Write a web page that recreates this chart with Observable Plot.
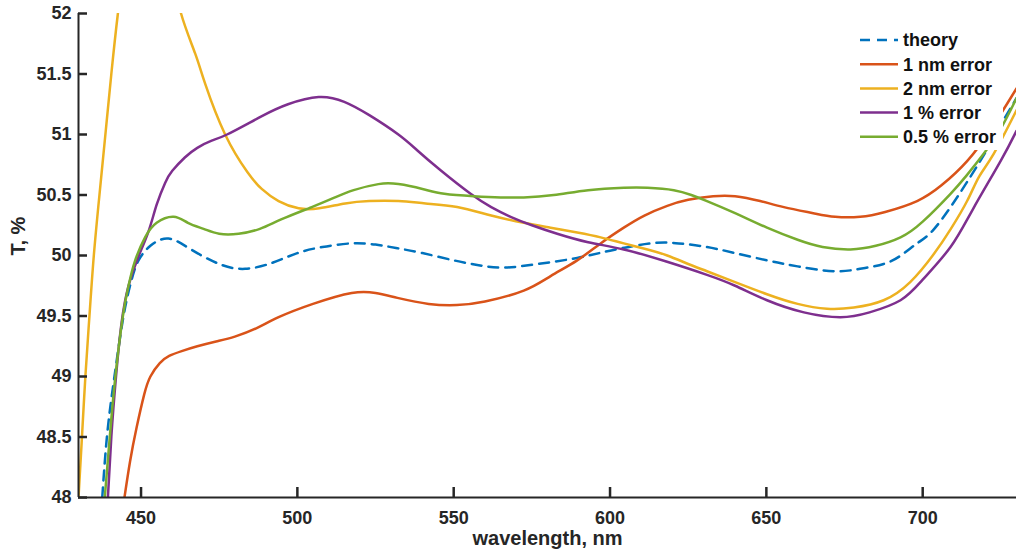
<!DOCTYPE html>
<html>
<head>
<meta charset="utf-8">
<script src="https://cdn.jsdelivr.net/npm/d3@7"></script>
<script src="https://cdn.jsdelivr.net/npm/@observablehq/plot@0.6"></script>
<style>
  html, body { margin: 0; padding: 0; background: #fff; }
  #wrap { position: relative; width: 1016px; height: 558px; }
  #legend { position: absolute; left: 853px; top: 28px; }
</style>
</head>
<body>
<div id="wrap"></div>
<script>
// ---- data ----
const xDomain = [430, 730];
const yDomain = [48, 52];
const xTicks = [450, 500, 550, 600, 650, 700];
const yTicks = [48, 48.5, 49, 49.5, 50, 50.5, 51, 51.5, 52];

const seriesNames = ["theory", "1 nm error", "2 nm error", "1 % error", "0.5 % error"];
const seriesColors = ["#0072BD", "#D95319", "#EDB120", "#7E2F8E", "#77AC30"];

const theoryWl = [437.6, 439.2, 441.5, 444.4, 447, 449.2, 453, 458.8, 466, 475, 483.3, 492, 500, 508, 517.3, 525, 532, 540, 550, 558, 566, 577, 589.5, 600, 613, 622, 631, 640, 650.2, 660, 671.5, 680, 687.5, 693, 698.2, 703, 708.9, 714, 720, 725, 730];
const theoryT  = [48.0, 48.53, 49.0, 49.5, 49.8, 49.96, 50.08, 50.14, 50.05, 49.93, 49.89, 49.94, 50.02, 50.07, 50.10, 50.09, 50.06, 50.02, 49.96, 49.92, 49.90, 49.93, 49.98, 50.04, 50.10, 50.10, 50.07, 50.02, 49.96, 49.91, 49.87, 49.89, 49.93, 50.0, 50.10, 50.2, 50.40, 50.6, 50.85, 51.08, 51.3];

const nm1Wl = [444.7, 446.5, 448.6, 451, 453, 456, 459, 463, 468, 474, 480, 487, 494, 505, 517.4, 525, 532, 542, 551, 560, 572.4, 581, 589.5, 597, 604.4, 611, 618.3, 625, 633, 640, 648, 655.6, 665, 672, 680, 688, 698.2, 706, 714.2, 722, 730];
const nm1T  = [48.0, 48.3, 48.58, 48.85, 49.0, 49.11, 49.17, 49.21, 49.25, 49.29, 49.33, 49.4, 49.49, 49.6, 49.69, 49.69, 49.65, 49.6, 49.59, 49.62, 49.71, 49.83, 49.96, 50.1, 50.23, 50.33, 50.41, 50.46, 50.49, 50.49, 50.45, 50.40, 50.35, 50.32, 50.32, 50.36, 50.45, 50.58, 50.78, 51.05, 51.38];

const nm2Wl = [430, 431, 432.2, 433.5, 434.9, 436.7, 438.6, 440.5, 442.6, 445, 448, 451, 454, 457, 460, 462.8, 467.3, 470.5, 476.9, 484, 488.6, 494, 500.4, 507, 515.3, 523, 532.3, 541, 551.1, 562, 572.4, 581, 589.5, 597, 604.4, 612, 618.3, 625, 631, 640, 650.2, 660, 669.4, 678, 687.5, 696, 703.5, 709, 714.2, 718, 722.7, 730];
const nm2T  = [48.0, 48.45, 49.0, 49.5, 50.0, 50.5, 51.0, 51.5, 52.0, 52.45, 52.85, 53.0, 52.95, 52.7, 52.35, 52.0, 51.67, 51.42, 51.0, 50.69, 50.55, 50.45, 50.39, 50.39, 50.43, 50.45, 50.45, 50.43, 50.40, 50.33, 50.27, 50.23, 50.19, 50.15, 50.10, 50.05, 50.0, 49.93, 49.87, 49.78, 49.68, 49.60, 49.56, 49.57, 49.63, 49.78, 50.01, 50.22, 50.45, 50.65, 50.84, 51.2];

const pc1Wl = [439.4, 440.5, 442, 443.8, 446, 449, 452.4, 455, 457.7, 460, 464, 468, 472.6, 477.5, 488.5, 497, 506.8, 515, 523, 532.3, 538.3, 546, 555.4, 562, 568.2, 575, 583.1, 593, 604.4, 618, 631, 640, 650.2, 662, 673.7, 683, 692.9, 700, 708.9, 716, 724.9, 730];
const pc1T  = [48.0, 48.5, 49.0, 49.45, 49.75, 49.98, 50.2, 50.42, 50.6, 50.7, 50.81, 50.89, 50.95, 51.0, 51.15, 51.25, 51.31, 51.27, 51.16, 51.0, 50.87, 50.7, 50.51, 50.40, 50.32, 50.25, 50.18, 50.11, 50.05, 49.95, 49.84, 49.75, 49.63, 49.53, 49.49, 49.53, 49.63, 49.8, 50.07, 50.38, 50.78, 51.03];

const pc05Wl = [438.4, 440, 441.8, 444.2, 446, 448, 451.3, 455, 460.4, 465, 470, 475, 481.2, 488, 495, 504.6, 512, 518, 525.9, 532.3, 540, 547, 556.4, 565, 572.4, 582, 593, 604.4, 612, 620.4, 626, 631, 640, 650.2, 660, 668, 676.9, 685, 692.9, 700, 708.9, 714, 719.5, 725, 730];
const pc05T  = [48.0, 48.5, 49.0, 49.5, 49.75, 49.95, 50.15, 50.27, 50.32, 50.27, 50.22, 50.18, 50.18, 50.22, 50.3, 50.40, 50.48, 50.54, 50.59, 50.59, 50.55, 50.51, 50.49, 50.48, 50.48, 50.5, 50.54, 50.56, 50.56, 50.54, 50.5, 50.45, 50.35, 50.23, 50.13, 50.07, 50.05, 50.08, 50.15, 50.28, 50.51, 50.66, 50.84, 51.05, 51.3];

// ---- build tables ----
const toRows = (wl, t) => wl.map((w, i) => ({wl: w, T: t[i]}));
const series = [
  {rows: toRows(theoryWl, theoryT), dash: "10,7"},
  {rows: toRows(nm1Wl, nm1T), dash: null},
  {rows: toRows(nm2Wl, nm2T), dash: null},
  {rows: toRows(pc1Wl, pc1T), dash: null},
  {rows: toRows(pc05Wl, pc05T), dash: null}
];

const ink = "#262626";
const font = "'Liberation Sans', Arial, Helvetica, sans-serif";

const W = 1016, H = 558, mL = 78, mR = 0, mT = 13, mB = 61;
const frameW = W - mL - mR, frameH = H - mT - mB;
const tickLen = 10;
// inward tick length converted from pixels to data units
const dyTick = tickLen * (yDomain[1] - yDomain[0]) / frameH;
const dxTick = (tickLen - 1) * (xDomain[1] - xDomain[0]) / frameW;

const lineMarks = series.map((s, i) => Plot.line(s.rows, {
  x: "wl", y: "T", stroke: seriesColors[i], strokeWidth: 2.5,
  strokeDasharray: s.dash, curve: "natural", clip: true
}));

const chart = Plot.plot({
  width: W, height: H,
  marginLeft: mL, marginRight: mR, marginTop: mT, marginBottom: mB,
  x: {domain: xDomain},
  y: {domain: yDomain},
  style: {fontFamily: font, fontWeight: "bold", fontSize: "18px", color: ink, background: "#fff", overflow: "visible"},
  marks: [
    ...lineMarks,
    Plot.ruleX([xDomain[0]], {stroke: ink, strokeWidth: 2}),
    Plot.ruleY([yDomain[0]], {stroke: ink, strokeWidth: 2}),
    Plot.ruleX(xTicks, {x: d => d, y1: yDomain[0], y2: yDomain[0] + dyTick, stroke: ink, strokeWidth: 2.5}),
    Plot.ruleY(yTicks, {y: d => d, x1: xDomain[0], x2: xDomain[0] + dxTick, stroke: ink, strokeWidth: 2.5}),
    Plot.axisX({ticks: xTicks, tickSize: 0, tickPadding: 14, fill: ink, fontSize: 18, label: null, tickFormat: d => String(d)}),
    Plot.axisY({ticks: yTicks, tickSize: 0, tickPadding: 7, fill: ink, fontSize: 18, label: null, tickFormat: d => String(d)}),
    Plot.text(["T, %"], {frameAnchor: "left", dx: -60, rotate: -90, fontSize: 20, fill: ink}),
    Plot.text(["wavelength, nm"], {frameAnchor: "bottom", dy: 47, fontSize: 20, fill: ink})
  ]
});

const wrap = document.getElementById("wrap");
wrap.appendChild(chart);

// ---- legend overlay ----
const lw = 150, lh = 122, rowH = 24.2;
const leg = d3.create("svg").attr("id", "legend").attr("width", lw).attr("height", lh)
  .style("background", "#fff");
seriesNames.forEach((name, i) => {
  const y = 12 + i * rowH;
  leg.append("line").attr("x1", 7).attr("x2", 45).attr("y1", y).attr("y2", y)
    .attr("stroke", seriesColors[i]).attr("stroke-width", 2.5)
    .attr("stroke-dasharray", series[i].dash);
  leg.append("text").attr("x", 50).attr("y", y).attr("dy", "0.35em")
    .attr("font-family", font).attr("font-weight", "bold").attr("font-size", 18)
    .attr("fill", "#111").text(name);
});
wrap.appendChild(leg.node());
</script>
</body>
</html>
